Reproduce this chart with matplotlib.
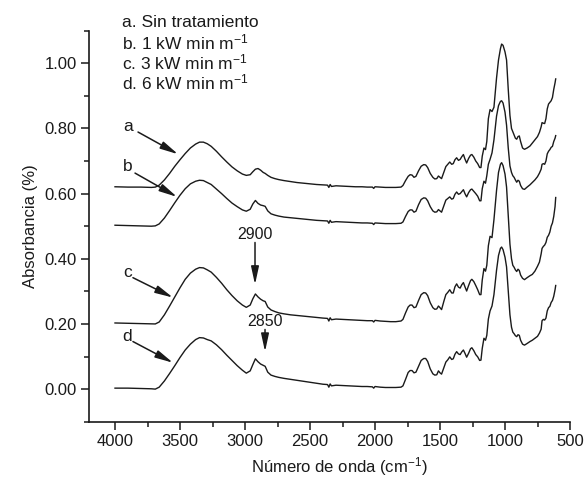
# plot.py
# FTIR spectra (absorbance vs wavenumber) for four plasma treatment doses

import matplotlib
matplotlib.use("Agg")
import matplotlib.pyplot as plt
from matplotlib.ticker import MultipleLocator, FormatStrFormatter

# Wavenumber grid (cm-1), shared by all four spectra
wavenumber = [
    4000, 3900, 3800, 3720, 3690, 3660, 3620, 3580, 3540, 3500,
    3460, 3420, 3380, 3350, 3320, 3290, 3260, 3220, 3180, 3140,
    3100, 3060, 3020, 2990, 2960, 2940, 2920, 2900, 2880, 2860,
    2845, 2825, 2800, 2770, 2740, 2700, 2650, 2600, 2550, 2500,
    2450, 2400, 2365, 2355, 2345, 2335, 2300, 2250, 2200, 2150,
    2100, 2060, 2020, 2010, 2000, 1960, 1920, 1880, 1840, 1800,
    1785, 1765, 1745, 1730, 1715, 1700, 1685, 1665, 1645, 1625,
    1610, 1595, 1575, 1555, 1540, 1525, 1512, 1500, 1488, 1470,
    1455, 1440, 1425, 1410, 1398, 1385, 1372, 1358, 1345, 1333,
    1320, 1308, 1295, 1280, 1265, 1255, 1240, 1225, 1210, 1195,
    1185, 1175, 1162, 1150, 1140, 1128, 1115, 1100, 1085, 1065,
    1050, 1035, 1026, 1015, 1000, 988, 975, 962, 950, 940,
    930, 920, 910, 900, 890, 880, 865, 850, 830, 808,
    790, 770, 750, 735, 722, 715, 705, 695, 685, 675,
    665, 655, 645, 635, 625, 615, 610,
]

# a. Sin tratamiento
abs_a = [
    0.621, 0.620, 0.620, 0.619, 0.620, 0.626, 0.642, 0.662, 0.684, 0.704,
    0.723, 0.740, 0.752, 0.758, 0.758, 0.753, 0.745, 0.730, 0.713, 0.697,
    0.682, 0.670, 0.660, 0.656, 0.658, 0.667, 0.675, 0.677, 0.672, 0.665,
    0.662, 0.656, 0.650, 0.646, 0.643, 0.640, 0.637, 0.634, 0.632, 0.630,
    0.628, 0.627, 0.626, 0.619, 0.628, 0.622, 0.624, 0.623, 0.622, 0.621,
    0.621, 0.620, 0.620, 0.616, 0.621, 0.620, 0.619, 0.619, 0.619, 0.620,
    0.625, 0.640, 0.653, 0.658, 0.657, 0.650, 0.653, 0.670, 0.684, 0.689,
    0.688, 0.680, 0.662, 0.650, 0.645, 0.646, 0.654, 0.650, 0.646, 0.666,
    0.683, 0.690, 0.697, 0.690, 0.692, 0.704, 0.710, 0.702, 0.705, 0.713,
    0.720, 0.706, 0.694, 0.708, 0.718, 0.720, 0.712, 0.700, 0.692, 0.680,
    0.680, 0.715, 0.740, 0.735, 0.760, 0.830, 0.858, 0.852, 0.865, 0.955,
    1.010, 1.045, 1.059, 1.055, 1.035, 1.010, 0.920, 0.840, 0.800, 0.790,
    0.780, 0.770, 0.767, 0.775, 0.777, 0.760, 0.740, 0.736, 0.740, 0.746,
    0.755, 0.765, 0.775, 0.788, 0.805, 0.818, 0.816, 0.815, 0.830, 0.860,
    0.875, 0.880, 0.885, 0.895, 0.920, 0.940, 0.952,
]

# b. 1 kW min m-1
abs_b = [
    0.503, 0.502, 0.501, 0.500, 0.501, 0.507, 0.525, 0.548, 0.572, 0.595,
    0.615, 0.630, 0.638, 0.641, 0.640, 0.634, 0.628, 0.614, 0.600, 0.585,
    0.571, 0.560, 0.550, 0.546, 0.552, 0.568, 0.579, 0.570, 0.565, 0.563,
    0.561, 0.547, 0.538, 0.534, 0.531, 0.528, 0.526, 0.524, 0.522, 0.520,
    0.518, 0.517, 0.516, 0.509, 0.518, 0.512, 0.514, 0.513, 0.512, 0.511,
    0.510, 0.510, 0.509, 0.505, 0.510, 0.509, 0.508, 0.508, 0.508, 0.509,
    0.513, 0.530, 0.545, 0.550, 0.550, 0.543, 0.546, 0.566, 0.582, 0.587,
    0.586, 0.578, 0.560, 0.547, 0.543, 0.544, 0.551, 0.547, 0.543, 0.563,
    0.580, 0.585, 0.590, 0.583, 0.585, 0.598, 0.605, 0.598, 0.600, 0.606,
    0.612, 0.600, 0.590, 0.603, 0.612, 0.614, 0.607, 0.600, 0.592, 0.578,
    0.578, 0.615, 0.638, 0.632, 0.655, 0.690, 0.705, 0.725, 0.765, 0.838,
    0.870, 0.883, 0.885, 0.878, 0.850, 0.810, 0.740, 0.685, 0.665, 0.655,
    0.650, 0.642, 0.635, 0.641, 0.638, 0.625, 0.615, 0.613, 0.620, 0.627,
    0.634, 0.642, 0.652, 0.663, 0.675, 0.690, 0.692, 0.690, 0.700, 0.722,
    0.730, 0.735, 0.742, 0.745, 0.760, 0.770, 0.778,
]

# c. 3 kW min m-1
abs_c = [
    0.203, 0.202, 0.201, 0.200, 0.200, 0.206, 0.228, 0.255, 0.283, 0.311,
    0.337, 0.356, 0.368, 0.373, 0.372, 0.366, 0.359, 0.343, 0.325, 0.305,
    0.287, 0.271, 0.258, 0.251, 0.258, 0.277, 0.292, 0.283, 0.276, 0.271,
    0.269, 0.252, 0.243, 0.238, 0.234, 0.231, 0.228, 0.226, 0.224, 0.222,
    0.220, 0.218, 0.217, 0.209, 0.219, 0.213, 0.215, 0.214, 0.213, 0.212,
    0.211, 0.210, 0.210, 0.206, 0.211, 0.209, 0.208, 0.207, 0.207, 0.209,
    0.214, 0.234, 0.252, 0.258, 0.258, 0.250, 0.252, 0.272, 0.290, 0.296,
    0.295, 0.287, 0.265, 0.250, 0.245, 0.246, 0.255, 0.250, 0.244, 0.270,
    0.290, 0.297, 0.305, 0.295, 0.295, 0.314, 0.323, 0.313, 0.310, 0.320,
    0.327, 0.314, 0.301, 0.318, 0.333, 0.337, 0.330, 0.318, 0.305, 0.290,
    0.290, 0.335, 0.370, 0.362, 0.380, 0.440, 0.469, 0.465, 0.520, 0.610,
    0.665, 0.690, 0.695, 0.686, 0.660, 0.620, 0.530, 0.445, 0.400, 0.380,
    0.374, 0.366, 0.361, 0.368, 0.364, 0.350, 0.340, 0.336, 0.342, 0.348,
    0.352, 0.362, 0.377, 0.390, 0.415, 0.432, 0.438, 0.442, 0.450, 0.466,
    0.472, 0.482, 0.500, 0.510, 0.530, 0.560, 0.588,
]

# d. 6 kW min m-1
abs_d = [
    0.003, 0.003, 0.002, 0.001, 0.000, 0.006, 0.025, 0.048, 0.072, 0.097,
    0.120, 0.138, 0.152, 0.158, 0.157, 0.152, 0.148, 0.136, 0.121, 0.104,
    0.088, 0.072, 0.058, 0.049, 0.056, 0.075, 0.093, 0.084, 0.077, 0.073,
    0.070, 0.052, 0.043, 0.039, 0.036, 0.033, 0.030, 0.027, 0.024, 0.021,
    0.018, 0.015, 0.014, 0.006, 0.016, 0.010, 0.012, 0.011, 0.010, 0.009,
    0.008, 0.008, 0.007, 0.003, 0.008, 0.006, 0.005, 0.005, 0.005, 0.006,
    0.010, 0.030, 0.051, 0.057, 0.057, 0.050, 0.052, 0.070, 0.088, 0.094,
    0.094, 0.085, 0.062, 0.047, 0.043, 0.044, 0.056, 0.050, 0.046, 0.066,
    0.083, 0.090, 0.099, 0.091, 0.093, 0.107, 0.115, 0.108, 0.106, 0.114,
    0.120, 0.110, 0.098, 0.110, 0.124, 0.127, 0.118, 0.106, 0.099, 0.088,
    0.089, 0.125, 0.156, 0.150, 0.165, 0.215, 0.240, 0.255, 0.290, 0.365,
    0.410, 0.432, 0.436, 0.428, 0.405, 0.375, 0.300, 0.228, 0.190, 0.175,
    0.170, 0.164, 0.161, 0.167, 0.165, 0.150, 0.138, 0.135, 0.140, 0.146,
    0.150, 0.156, 0.162, 0.172, 0.184, 0.210, 0.214, 0.212, 0.218, 0.240,
    0.250, 0.254, 0.266, 0.272, 0.285, 0.305, 0.318,
]

series_labels = [
    "a. Sin tratamiento",
    "b. 1 kW min m$^{-1}$",
    "c. 3 kW min m$^{-1}$",
    "d. 6 kW min m$^{-1}$",
]

# Curve letters with the arrows pointing at each spectrum: (text, tail, head)
curve_tags = [
    ("a", (3900, 0.807), (3823, 0.789), (3515, 0.721)),
    ("b", (3900, 0.684), (3846, 0.663), (3523, 0.590)),
    ("c", (3900, 0.358), (3862, 0.342), (3554, 0.281)),
    ("d", (3908, 0.161), (3862, 0.146), (3554, 0.081)),
]

# Band markers: (label, wavenumber, text y, arrow top, arrow tip)
band_marks = [
    ("2900", 2923, 0.475, 0.450, 0.321),
    ("2850", 2846, 0.207, 0.183, 0.115),
]

INK = "#1a1a1a"


def setup_fonts():
    plt.rcParams["font.family"] = ["Liberation Sans", "DejaVu Sans"]
    plt.rcParams["mathtext.fontset"] = "custom"
    plt.rcParams["mathtext.rm"] = "Liberation Sans"
    plt.rcParams["mathtext.it"] = "Liberation Sans"
    plt.rcParams["font.size"] = 12


def plot_spectra(out_path: str = "out.png"):
    setup_fonts()

    W, H = 587, 479
    fig = plt.figure(figsize=(W / 100, H / 100), dpi=100)
    # Axes box in pixels: left 89, right 570, top 30.7, bottom 421.7
    ax = fig.add_axes([89 / W, (H - 421.7) / H, (570 - 89) / W, (421.7 - 30.7) / H])

    # Spectra
    for y in (abs_a, abs_b, abs_c, abs_d):
        ax.plot(wavenumber, y, color=INK, lw=1.0)

    # Axis ranges and ticks
    ax.set_xlim(4200, 500)
    ax.set_ylim(-0.1, 1.1)
    ax.xaxis.set_major_locator(MultipleLocator(500))
    ax.xaxis.set_minor_locator(MultipleLocator(250))
    ax.yaxis.set_major_locator(MultipleLocator(0.2))
    ax.yaxis.set_minor_locator(MultipleLocator(0.1))
    ax.yaxis.set_major_formatter(FormatStrFormatter("%.2f"))
    ax.set_yticks([0.0, 0.2, 0.4, 0.6, 0.8, 1.0])

    ax.tick_params(which="major", direction="out", length=6, width=1.1,
                   colors=INK, labelsize=12, pad=3)
    ax.tick_params(which="minor", direction="out", length=3.5, width=1.1,
                   colors=INK)

    for side in ("top", "right"):
        ax.spines[side].set_visible(False)
    for side in ("left", "bottom"):
        ax.spines[side].set_linewidth(1.2)
        ax.spines[side].set_color(INK)

    ax.set_xlabel("Número de onda (cm$^{-1}$)", fontsize=12, color=INK)
    ax.xaxis.set_label_coords(0.52, -0.085)
    ax.set_ylabel("Absorbancia (%)", fontsize=12, color=INK)
    ax.yaxis.set_label_coords(-0.105, 0.5)

    # Legend text block at the top
    for i, lab in enumerate(series_labels):
        fig.text(122.5 / W, 1 - (22.7 + 20 * i) / H, lab, fontsize=12.5,
                 color=INK, ha="left", va="center")

    # Letters + arrows on each curve (long, slender heads)
    arrow_kw = dict(arrowstyle="-|>,head_length=0.6,head_width=0.13",
                    color=INK, lw=1.1, mutation_scale=18,
                    shrinkA=0, shrinkB=0)
    for letter, txt_pos, tail, head in curve_tags:
        ax.text(txt_pos[0], txt_pos[1], letter, fontsize=12.5, color=INK,
                ha="center", va="center")
        ax.annotate("", xy=head, xytext=tail, arrowprops=arrow_kw)

    # Band position markers
    for lab, wn, ty, top, tip in band_marks:
        ax.text(wn, ty, lab, fontsize=11.5, color=INK, ha="center", va="center")
        ax.annotate("", xy=(wn, tip), xytext=(wn, top), arrowprops=arrow_kw)

    fig.savefig(out_path, dpi=100)
    plt.close(fig)


if __name__ == "__main__":
    plot_spectra("out.png")
